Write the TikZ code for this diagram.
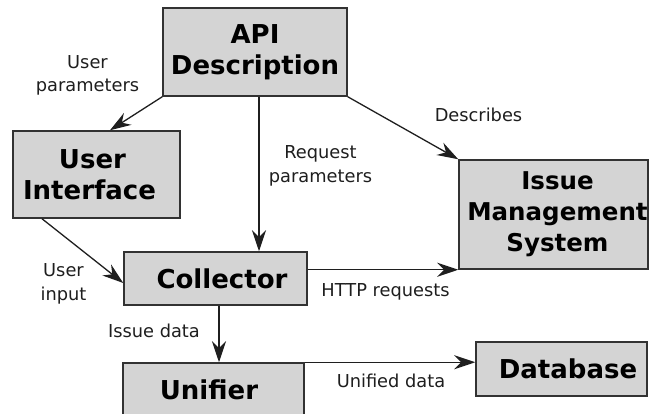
\documentclass[tikz,border=0pt]{standalone}
\usepackage{fontspec}
\setmainfont{DejaVu Sans}
\usetikzlibrary{arrows.meta}
\definecolor{boxfill}{RGB}{212,212,212}
\definecolor{boxline}{RGB}{50,50,50}
\definecolor{lbl}{RGB}{30,30,30}
\newcommand\shl[2]{\kern#1\relax#2\kern-#1\relax}
\begin{document}
\begin{tikzpicture}[x=1pt,y=-1pt,
  box/.style={draw=boxline, line width=1.5pt, fill=boxfill, inner sep=0pt,
    align=center, font=\fontsize{26}{31.5}\selectfont\bfseries, text=black},
  lab/.style={inner sep=0pt, align=center, text=lbl,
    font=\fontsize{17.8}{23.5}\selectfont},
  arr/.style={draw=black!88, line width=1.3pt,
    -{Stealth[length=21pt,width=14pt,inset=7pt]}}]
\useasboundingbox (0,0) rectangle (649,414);
\begin{scope}
\clip (0,0) rectangle (649,414);
\node[box, minimum width=184pt, minimum height=88pt] (api) at (255,52)
  {API\\Description};
\node[box, minimum width=167pt, minimum height=87pt] (ui) at (96.5,174.5)
  {\shl{-4pt}{User}\\\shl{-7pt}{Interface}};
\node[box, minimum width=189pt, minimum height=109pt,
  font=\fontsize{24.5}{31}\selectfont\bfseries] (ims) at (553.5,214.5)
  {\shl{4pt}{Issue}\\\shl{4pt}{Management}\\\shl{4pt}{System}};
\node[box, minimum width=183pt, minimum height=53pt] (col) at (215.5,278.5)
  {\shl{6.5pt}{Collector}};
\node[box, minimum width=181pt, minimum height=53pt] (uni) at (213.5,389.5)
  {\shl{-4.5pt}{Unifier}};
\node[box, minimum width=171pt, minimum height=54pt] (db) at (561.5,369)
  {\shl{6.5pt}{Database}};
\end{scope}

\draw[arr] (api.south west) -- ([xshift=13.5pt]ui.north);
\draw[arr] ([xshift=4pt]api.south) -- ([xshift=4pt]api.south |- col.north);
\draw[arr] (api.south east) -- (ims.north west);
\draw[arr] ([xshift=-54.5pt]ui.south) -- ([yshift=-4.5pt]col.west);
\draw[arr] (col.east |- ims.south west) -- (ims.south west);
\draw[arr] ([xshift=3.5pt]col.south) -- ([xshift=3.5pt]col.south |- uni.north);
\draw[arr] (uni.north east) -- (uni.north east -| db.west);

\node[lab] (l1) at (87.5,75.2) {User\\parameters};
\node[lab] (l2) at (320.5,165.7) {Request\\parameters};
\node[lab, anchor=base] (l3) at (478.5,122) {Describes};
\node[lab] (l4) at (63.5,283.7) {User\\input};
\node[lab, anchor=base] (l5) at (385.5,297) {HTTP requests};
\node[lab, anchor=base] (l6) at (154,338) {Issue data};
\node[lab, anchor=base] (l7) at (391,388) {Unified data};
\end{tikzpicture}
\end{document}
